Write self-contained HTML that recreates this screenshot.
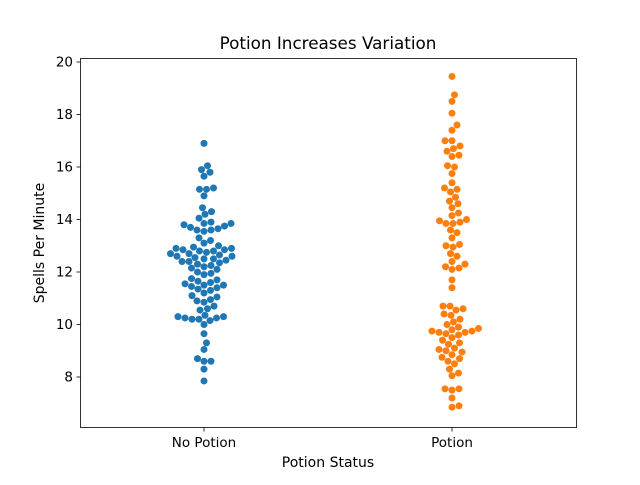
<!DOCTYPE html>
<html><head><meta charset="utf-8"><style>
body{margin:0;background:#fff}
svg text{font-family:"DejaVu Sans","Liberation Sans",sans-serif;fill:#000}
</style></head><body>
<svg id="chart" width="640" height="480" xmlns="http://www.w3.org/2000/svg">
<rect width="640" height="480" fill="#fff"/>
<text x="328" y="49" font-size="16.8" text-anchor="middle">Potion Increases Variation</text>
<text x="328" y="467" font-size="14" text-anchor="middle">Potion Status</text>
<text x="0" y="0" font-size="14" text-anchor="middle" transform="translate(44,243) rotate(-90)">Spells Per Minute</text>
<g id="marks"></g>
<g id="axes"></g>
<rect x="80.5" y="58.5" width="496" height="369" fill="none" stroke="#000" stroke-width="0.8"/>
</svg>
<script>
const categories = ["No Potion", "Potion"];
const colors = ["#1f77b4", "#ff7f0e"];
const yTicks = [8, 10, 12, 14, 16, 18, 20];
const noPotion = [16.9,16.05,15.9,15.8,15.65,15.2,15.15,15.15,14.9,14.45,14.3,14.2,14.05,13.9,13.85,13.85,13.8,13.75,13.7,13.65,13.6,13.6,13.55,13.3,13.2,13.1,13.0,12.95,12.9,12.9,12.85,12.85,12.8,12.8,12.75,12.7,12.7,12.65,12.6,12.6,12.55,12.5,12.5,12.45,12.4,12.4,12.35,12.3,12.25,12.2,12.15,12.1,12.0,11.95,11.9,11.75,11.7,11.65,11.6,11.55,11.5,11.5,11.45,11.4,11.35,11.3,11.2,11.1,11.05,10.95,10.9,10.85,10.7,10.6,10.55,10.35,10.3,10.3,10.25,10.25,10.2,10.2,10.15,10.0,9.65,9.3,9.05,8.7,8.6,8.6,8.3,7.85];
const potion = [19.45,18.75,18.5,18.05,17.6,17.4,17.0,17.0,16.8,16.7,16.6,16.45,16.4,16.05,16.0,15.75,15.4,15.2,15.15,15.05,14.85,14.7,14.6,14.45,14.25,14.15,14.0,13.95,13.9,13.85,13.85,13.6,13.5,13.3,13.05,13.0,12.95,12.7,12.6,12.4,12.3,12.2,12.15,12.1,11.7,11.4,10.7,10.7,10.6,10.55,10.4,10.35,10.2,10.1,10.0,9.9,9.85,9.8,9.75,9.75,9.7,9.7,9.65,9.6,9.5,9.4,9.3,9.25,9.1,9.05,9.0,8.95,8.85,8.75,8.7,8.6,8.5,8.3,8.15,8.05,7.55,7.55,7.5,7.2,6.9,6.85];
const series = [noPotion, potion];

const NS = "http://www.w3.org/2000/svg";
const plotL = 80, plotR = 576;
function yScale(v){ return 62 - (v - 20) * 26.25; }
function xScale(i){ return plotL + (plotR - plotL) * (i + 0.5) / categories.length; }

const axes = document.getElementById('axes');
yTicks.forEach(t => {
  const y = yScale(t);
  const ln = document.createElementNS(NS,'line');
  
  
  ln.setAttribute('x1',76.5); ln.setAttribute('x2',80.5);
  ln.setAttribute('y1',y); ln.setAttribute('y2',y);
  ln.setAttribute('stroke','#000'); ln.setAttribute('stroke-width','0.8');
  axes.appendChild(ln);
  const tx = document.createElementNS(NS,'text');
  
  
  tx.setAttribute('x',73); tx.setAttribute('y',y+4.5);
  tx.setAttribute('font-size','13.5'); tx.setAttribute('text-anchor','end');
  tx.textContent = t;
  axes.appendChild(tx);
});
categories.forEach((c,i) => {
  const x = xScale(i);
  const ln = document.createElementNS(NS,'line');
  
  
  ln.setAttribute('x1',x); ln.setAttribute('x2',x);
  ln.setAttribute('y1',427.5); ln.setAttribute('y2',431.5);
  ln.setAttribute('stroke','#000'); ln.setAttribute('stroke-width','0.8');
  axes.appendChild(ln);
  const tx = document.createElementNS(NS,'text');
  
  
  tx.setAttribute('x',x); tx.setAttribute('y',447);
  tx.setAttribute('font-size','13.5'); tx.setAttribute('text-anchor','middle');
  tx.textContent = c;
  axes.appendChild(tx);
});

const marks = document.getElementById('marks');
const R = 3.5, D = 7;
series.forEach((vals, si) => {
  const cx = xScale(si);
  const placed = [];
  const sorted = vals.slice().sort((a,b)=>a-b);
  sorted.forEach(v => {
    const y = yScale(v);
    let off = 0, found = false;
    for (let k = 0; k < 400 && !found; k++) {
      const cands = k === 0 ? [0] : [k*0.5, -k*0.5];
      for (const o of cands) {
        if (placed.every(p => (p.x-o)*(p.x-o)+(p.y-y)*(p.y-y) >= D*D)) { off = o; found = true; break; }
      }
    }
    placed.push({x:off, y:y});
    const c = document.createElementNS(NS,'circle');
    
    
    c.setAttribute('cx', cx + off); c.setAttribute('cy', y);
    c.setAttribute('r', R); c.setAttribute('fill', colors[si]);
    marks.appendChild(c);
  });
});
</script>
</body></html>
